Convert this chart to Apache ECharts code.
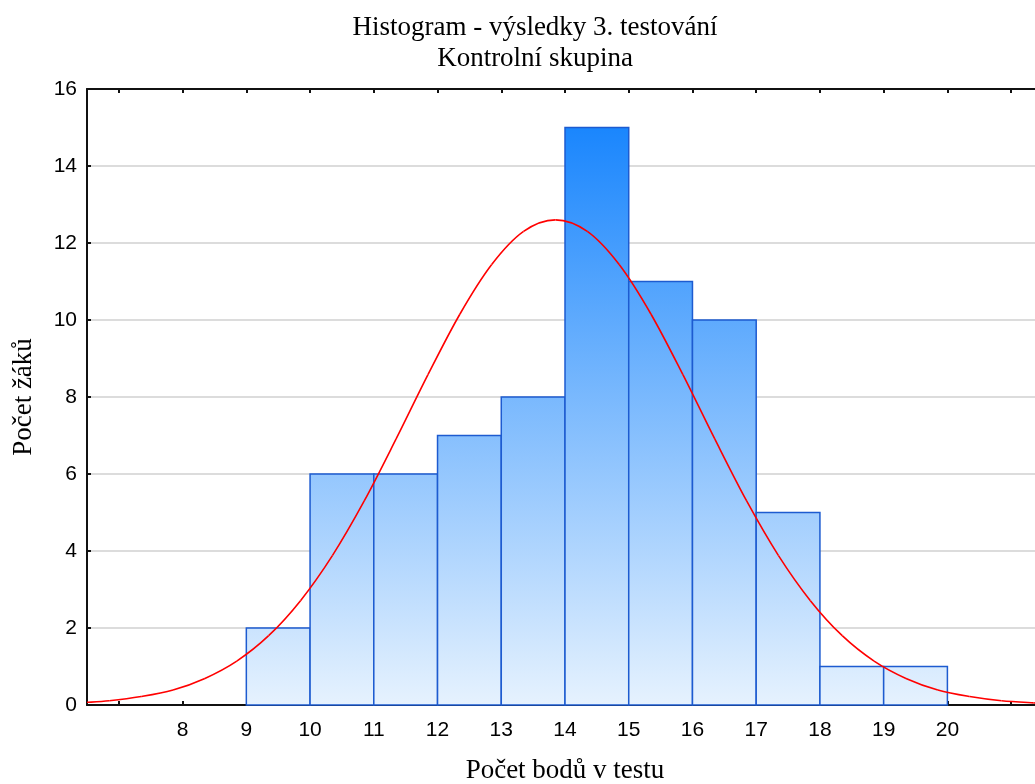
<!DOCTYPE html>
<html>
<head>
<meta charset="utf-8">
<title>Histogram</title>
<script src="https://cdn.jsdelivr.net/npm/echarts@6/dist/echarts.min.js"></script>
<style>
  html, body { margin: 0; padding: 0; background: #fff; }
  #main { width: 1035px; height: 784px; }
</style>
</head>
<body>
<div id="main"></div>
<script>
// histogram bins (lower edge, upper edge) and counts
var binLow  = [9, 10, 11, 12, 13, 14, 15, 16, 17, 18, 19];
var binHigh = [10, 11, 12, 13, 14, 15, 16, 17, 18, 19, 20];
var counts  = [2, 6, 6, 7, 8, 15, 11, 10, 5, 1, 1];

var curveX = [6.5, 6.85, 7.35, 7.85, 8.35, 8.85, 9.35, 9.85, 10.35, 10.85, 11.35, 11.85, 12.35, 12.85, 13.35, 13.85,
              14.35, 14.85, 15.35, 15.85, 16.35, 16.85, 17.35, 17.85, 18.35, 18.85, 19.35, 19.85, 20.35, 20.85, 21.35, 21.5];
var curveY = [0.07, 0.11, 0.22, 0.39, 0.69, 1.14, 1.8, 2.71, 3.88, 5.3, 6.91, 8.58, 10.15, 11.44, 12.3, 12.6,
              12.3, 11.44, 10.15, 8.58, 6.91, 5.3, 3.88, 2.71, 1.8, 1.14, 0.69, 0.39, 0.22, 0.11, 0.055, 0.045];

// axis ticks / labels
var xTicks  = [7, 8, 9, 10, 11, 12, 13, 14, 15, 16, 17, 18, 19, 20, 21];
var xLabels = [8, 9, 10, 11, 12, 13, 14, 15, 16, 17, 18, 19, 20];

var histData = binLow.map(function (lo, i) { return [lo, binHigh[i], counts[i]]; });
var curveData = curveX.map(function (x, i) { return [x, curveY[i]]; });
var maxCount = Math.max.apply(null, counts);

var myChart = echarts.init(document.getElementById('main'));
var labelFont = { fontFamily: 'Liberation Sans', fontSize: 21, color: '#000' };
var serifFont = { fontFamily: 'Liberation Serif', fontSize: 27, fontWeight: 'normal', color: '#000' };

// one catmull-rom segment per curve point (the line series smoothing gives corners)
function renderCurveSeg(params, api) {
	var i = params.dataIndex;
	var n = curveData.length;
	if (i >= n - 1) return null;
	var p0 = api.coord(curveData[Math.max(i - 1, 0)]);
	var p1 = api.coord(curveData[i]);
	var p2 = api.coord(curveData[i + 1]);
	var p3 = api.coord(curveData[Math.min(i + 2, n - 1)]);
	return {
		type: 'bezierCurve',
		shape: {
			x1: p1[0], y1: p1[1],
			cpx1: p1[0] + (p2[0] - p0[0]) / 6, cpy1: p1[1] + (p2[1] - p0[1]) / 6,
			cpx2: p2[0] - (p3[0] - p1[0]) / 6, cpy2: p2[1] - (p3[1] - p1[1]) / 6,
			x2: p2[0], y2: p2[1]
		},
		style: { stroke: '#ff0000', fill: null, lineWidth: 1.6 }
	};
}

myChart.setOption({
	animation: false,
	title: {
		text: 'Histogram - výsledky 3. testování',
		subtext: 'Kontrolní skupina',
		left: 530,
		top: 9,
		textAlign: 'center',
		itemGap: 4,
		textStyle: serifFont,
		subtextStyle: serifFont
	},
	// plot runs a little past the right edge of the picture
	grid: { left: 87, top: 89, bottom: 79, width: 956, outerBoundsMode: 'none' },
	xAxis: [
		{
			type: 'value',
			min: 6.5,
			max: 21.5,
			name: 'Počet bodů v testu',
			nameLocation: 'middle',
			nameGap: 52,
			nameTextStyle: serifFont,
			axisLine: { show: true, lineStyle: { color: '#111', width: 2 } },
			axisTick: { show: true, inside: true, length: 4, customValues: xTicks, lineStyle: { color: '#111', width: 2 } },
			axisLabel: Object.assign({ customValues: xLabels, margin: 15 }, labelFont),
			splitLine: { show: false }
		},
		{
			type: 'value',
			position: 'top',
			min: 6.5,
			max: 21.5,
			axisLine: { show: true, lineStyle: { color: '#111', width: 2 } },
			axisTick: { show: true, inside: true, length: 4, customValues: xTicks, lineStyle: { color: '#111', width: 2 } },
			axisLabel: { show: false },
			splitLine: { show: false }
		}
	],
	yAxis: {
		type: 'value',
		min: 0,
		max: 16,
		interval: 2,
		name: 'Počet žáků',
		nameLocation: 'middle',
		nameGap: 50,
		nameTextStyle: serifFont,
		axisLine: { show: true, lineStyle: { color: '#111', width: 2 } },
		axisTick: { show: true, inside: true, length: 4, lineStyle: { color: '#111', width: 2 } },
		axisLabel: Object.assign({ margin: 10 }, labelFont),
		splitLine: { show: true, lineStyle: { color: '#dcdcdc', width: 2 } }
	},
	series: [
		{
			type: 'custom',
			xAxisIndex: 0,
			data: histData,
			z: 2,
			renderItem: function (params, api) {
				var p0 = api.coord([api.value(0), api.value(2)]);
				var p1 = api.coord([api.value(1), 0]);
				var gTop = api.coord([0, maxCount]);
				var gBot = api.coord([0, 0]);
				return {
					type: 'rect',
					shape: { x: p0[0], y: p0[1], width: p1[0] - p0[0], height: p1[1] - p0[1] },
					style: {
						fill: new echarts.graphic.LinearGradient(0, gTop[1], 0, gBot[1], [
							{ offset: 0, color: '#1a86fd' },
							{ offset: 1, color: '#e6f2fe' }
						], true),
						stroke: '#1d5bd0',
						lineWidth: 1.5
					}
				};
			}
		},
		{
			type: 'custom',
			xAxisIndex: 0,
			data: curveData,
			z: 3,
			renderItem: renderCurveSeg
		}
	]
});
</script>
</body>
</html>
